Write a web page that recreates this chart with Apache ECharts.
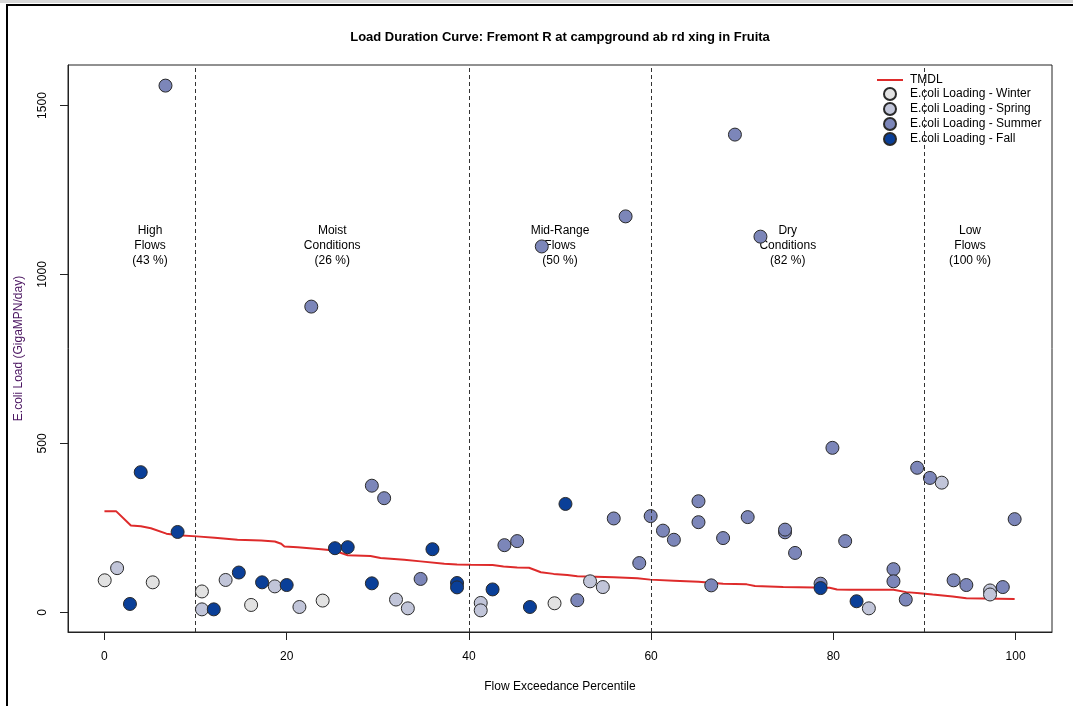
<!DOCTYPE html>
<html>
<head>
<meta charset="utf-8">
<title>Load Duration Curve</title>
<script src="https://cdn.jsdelivr.net/npm/echarts@6/dist/echarts.min.js"></script>
<style>
  html, body { margin: 0; padding: 0; background: #fff; }
  #chart { width: 1073px; height: 706px; }
</style>
</head>
<body>
<div id="chart"></div>
<script>
// Flow exceedance percentile vs. E.coli load (GigaMPN/day)

// TMDL duration curve vertices [percentile, load]
const tmdlX = [0, 1.3, 2.9, 4.0, 5.1, 6.8, 8.1, 10.1, 12.1, 14.6, 17.2, 18.7, 19.4, 19.75, 21.2, 23.8, 25.2, 26.7, 29.2, 30.3, 32.9, 34.7, 37.3, 38.7, 40.2, 42.6, 43.8, 45.3, 46.6, 47.9, 49.3, 50.8, 51.9, 55.9, 58.5, 59.9, 62.5, 65.2, 67.9, 70.5, 71.4, 74.5, 79.6, 80.4, 81.8, 86.6, 88.0, 89.5, 90.9, 93.1, 94.6, 99.9];
const tmdlY = [299, 299, 257, 255, 249, 233, 228, 225, 221, 215, 213, 210, 203, 195, 193, 187, 183, 169, 167, 161, 156, 151, 144, 142, 141, 140, 136, 133, 132, 119, 114, 111, 107, 104, 101, 97, 94, 91, 85, 83, 78, 75, 73, 68, 67, 67, 60, 57, 53, 47, 42, 40];

// Seasonal samples [percentile, load]
const winterX = [0.03, 5.3, 10.7, 16.1, 23.95, 49.4];
const winterY = [95, 89, 62, 22, 35, 27];

const springX = [1.39, 10.7, 13.3, 18.7, 21.4, 32.0, 33.3, 41.3, 41.3, 53.3, 54.7, 83.9, 91.9, 97.2, 97.2];
const springY = [131, 9, 96, 77, 16, 38, 12, 28, 6, 92, 75, 12, 384, 65, 53];

const summerX = [6.7, 22.7, 29.35, 30.7, 34.7, 43.9, 45.3, 48.0, 51.9, 55.9, 57.2, 58.7, 59.95, 61.3, 62.5, 65.2, 65.2, 66.6, 67.9, 69.2, 70.6, 72.0, 74.7, 74.7, 75.8, 78.6, 79.9, 81.3, 86.6, 86.6, 87.95, 89.2, 90.6, 93.2, 94.6, 98.6, 99.9];
const summerY = [1559, 905, 375, 338, 99, 199, 211, 1083, 36, 278, 1172, 146, 285, 242, 215, 329, 267, 80, 220, 1414, 282, 1112, 237, 245, 176, 85, 487, 211, 128, 92, 38, 428, 398, 95, 81, 75, 276];

const fallX = [2.8, 3.98, 8.03, 12.0, 14.75, 17.3, 20.0, 25.3, 26.7, 29.35, 36.0, 38.7, 38.7, 42.6, 46.7, 50.6, 78.6, 82.55];
const fallY = [25, 415, 238, 9, 118, 89, 81, 190, 193, 86, 187, 87, 74, 68, 16, 321, 72, 33];

// Flow regime boundaries and labels
const zoneBounds = [10, 40, 60, 90];
const zoneCenters = [5, 25, 50, 75, 95];
const zoneLabels = ['High\nFlows\n(43 %)', 'Moist\nConditions\n(26 %)', 'Mid-Range\nFlows\n(50 %)', 'Dry\nConditions\n(82 %)', 'Low\nFlows\n(100 %)'];
const zoneLabelLoad = 1085;

const xTicks = [0, 20, 40, 60, 80, 100];
const yTicks = [0, 500, 1000, 1500];

const FONT = '"Liberation Sans", Arial, sans-serif';
const zip = (xs, ys) => xs.map((x, i) => [x, ys[i]]);

function pointSeries(name, xs, ys, color) {
  return {
    name: name,
    type: 'scatter',
    z: 3,
    symbol: 'circle',
    symbolSize: 13,
    itemStyle: { color: color, borderColor: '#2a2a2a', borderWidth: 1, opacity: 1 },
    emphasis: { disabled: true },
    data: zip(xs, ys)
  };
}

const chart = echarts.init(document.getElementById('chart'), null, { renderer: 'canvas' });

chart.setOption({
  backgroundColor: '#ffffff',
  animation: false,
  textStyle: { fontFamily: FONT },
  grid: { left: 68, top: 65, width: 984, height: 567, show: true, borderColor: '#222', borderWidth: 1, backgroundColor: 'transparent' },
  graphic: [
    { type: 'rect', shape: { x: 0, y: 0, width: 1073, height: 3 }, style: { fill: '#d8d8d8' }, silent: true },
    { type: 'polyline', shape: { points: [[7, 710], [7, 5], [1073, 5]] }, style: { stroke: '#000', lineWidth: 2, fill: null }, silent: true },
    { type: 'text', x: 560, y: 37, style: { text: 'Load Duration Curve: Fremont R at campground ab rd xing in Fruita', font: 'bold 13px ' + FONT, fill: '#000', align: 'center', verticalAlign: 'middle' }, silent: true }
  ],
  legend: {
    left: 872,
    top: 69,
    orient: 'vertical',
    itemWidth: 26,
    itemHeight: 12,
    itemGap: 1,
    textStyle: { fontSize: 12, color: '#000', fontFamily: FONT, padding: [0, 0, 0, 2] },
    selectedMode: false,
    data: [
      { name: 'TMDL', icon: 'path://M0,0 L26,0 L26,2 L0,2 Z' },
      'E.coli Loading - Winter',
      'E.coli Loading - Spring',
      'E.coli Loading - Summer',
      'E.coli Loading - Fall'
    ]
  },
  xAxis: {
    type: 'value',
    min: -4,
    max: 104,
    name: 'Flow Exceedance Percentile',
    nameLocation: 'middle',
    nameGap: 49,
    nameTextStyle: { fontSize: 12, color: '#000', fontFamily: FONT },
    axisLine: { show: true, onZero: false, lineStyle: { color: '#222', width: 1 } },
    axisTick: { show: true, customValues: xTicks, length: 8, lineStyle: { color: '#222' } },
    axisLabel: { customValues: xTicks, fontSize: 12, color: '#000', margin: 19 },
    splitLine: { show: false }
  },
  yAxis: {
    type: 'value',
    min: -58,
    max: 1620,
    name: 'E.coli Load (GigaMPN/day)',
    nameLocation: 'middle',
    nameGap: 43,
    nameTextStyle: { fontSize: 12, color: '#4a1460', fontFamily: FONT },
    axisLine: { show: true, onZero: false, lineStyle: { color: '#222', width: 1 } },
    axisTick: { show: true, customValues: yTicks, length: 8, lineStyle: { color: '#222' } },
    axisLabel: { customValues: yTicks, fontSize: 12, color: '#000', rotate: 90, margin: 19, formatter: v => String(v) },
    splitLine: { show: false }
  },
  series: [
    {
      name: 'TMDL',
      type: 'line',
      z: 2,
      symbol: 'none',
      lineStyle: { color: '#de2b2b', width: 2 },
      itemStyle: { color: '#de2b2b' },
      emphasis: { disabled: true },
      data: zip(tmdlX, tmdlY),
      markLine: {
        silent: true,
        symbol: ['none', 'none'],
        label: { show: false },
        lineStyle: { color: '#333', type: [4, 3], width: 1 },
        data: zoneBounds.map(v => ({ xAxis: v }))
      }
    },
    {
      name: 'zones',
      type: 'scatter',
      z: 1,
      silent: true,
      symbolSize: 1,
      itemStyle: { color: 'rgba(255,255,255,0)' },
      label: {
        show: true,
        position: 'inside',
        formatter: p => zoneLabels[p.dataIndex],
        fontSize: 12,
        lineHeight: 15,
        color: '#000',
        opacity: 1,
        align: 'center',
        fontFamily: FONT
      },
      data: zoneCenters.map(x => [x, zoneLabelLoad])
    },
    pointSeries('E.coli Loading - Winter', winterX, winterY, '#e2e2e2'),
    pointSeries('E.coli Loading - Spring', springX, springY, '#c1c5d9'),
    pointSeries('E.coli Loading - Summer', summerX, summerY, '#7c86b9'),
    pointSeries('E.coli Loading - Fall', fallX, fallY, '#0a3f98')
  ]
});
</script>
</body>
</html>
